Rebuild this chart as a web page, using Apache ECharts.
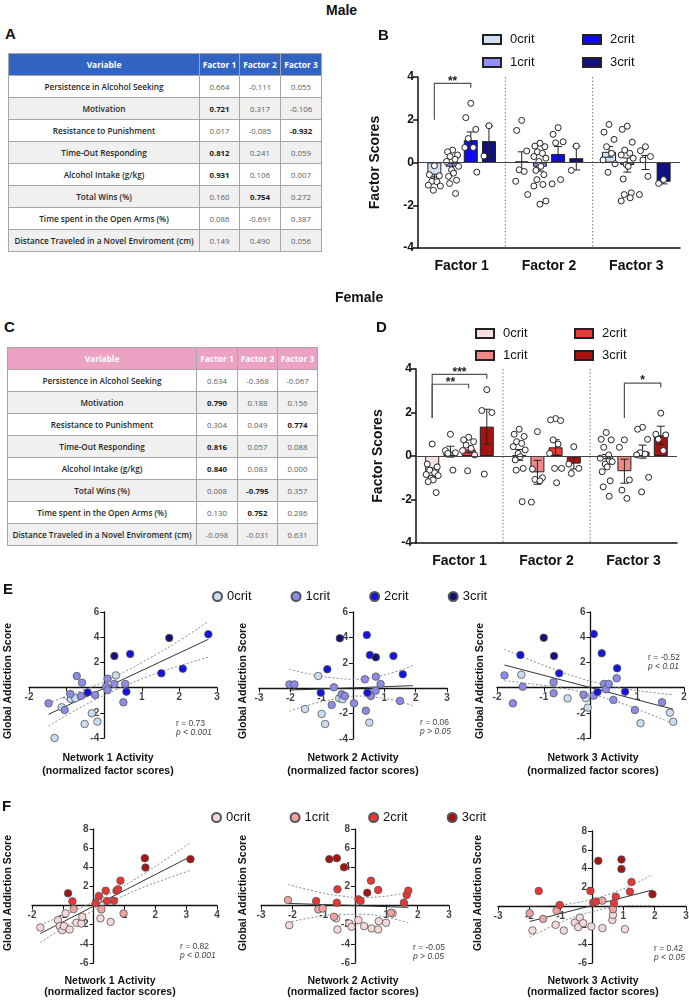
<!DOCTYPE html>
<html>
<head>
<meta charset="utf-8">
<title>Factor analysis – male / female</title>
<script src="https://cdn.jsdelivr.net/npm/echarts@6/dist/echarts.min.js"></script>
<style>
html, body { margin:0; padding:0; background:#fff; }
#page { position:relative; width:689px; height:1000px; overflow:hidden; background:#fff; font-family:"Liberation Sans", Arial, sans-serif; }
.chart { position:absolute; }
.head { position:absolute; font-weight:bold; font-size:14px; color:#111; z-index:3; }
.letter { position:absolute; font-weight:bold; font-size:15px; color:#111; }
table.load { position:absolute; border-collapse:collapse; table-layout:fixed; font-family:"Open Sans","Noto Sans",sans-serif; font-size:7.8px; }
table.load th, table.load td { border:1px solid #a6a6a6; padding:0; height:21px; text-align:center; vertical-align:middle; overflow:hidden; white-space:nowrap; }
table.load th { color:#fff; font-weight:700; font-size:8.4px; }
table.load td { color:#5a5a5a; background:#fff; }
table.load td.var { color:#262626; font-weight:600; font-size:8.2px; }
table.load td.b { color:#1a1a1a; font-weight:700; }
table.load tr.alt td { background:#f0f0f0; }
</style>
</head>
<body>
<div id="page">
  <div class="head" style="left:326px;top:2px;">Male</div>
  <div class="letter" style="left:5px;top:25px;">A</div>
  <table class="load" id="tabA" style="left:8px;top:53px;width:313px;"></table>
  <div class="chart" id="chB" style="left:340px;top:20px;width:349px;height:270px;"></div>

  <div class="head" style="left:335px;top:289px;">Female</div>
  <div class="letter" style="left:4px;top:318px;">C</div>
  <table class="load" id="tabC" style="left:7px;top:347px;width:310px;"></table>
  <div class="chart" id="chD" style="left:340px;top:290px;width:349px;height:290px;"></div>

  <div class="chart" id="chE" style="left:0px;top:580px;width:689px;height:205px;"></div>
  <div class="chart" id="chF" style="left:0px;top:790px;width:689px;height:210px;"></div>
</div>
<script>
// ---------- tables A / C ----------
const variables = ['Persistence in Alcohol Seeking', 'Motivation', 'Resistance to Punishment', 'Time-Out Responding',
  'Alcohol Intake (g/kg)', 'Total Wins (%)', 'Time spent in the Open Arms (%)', 'Distance Traveled in a Novel Enviroment (cm)'];
const maleF1 = [0.664, 0.721, 0.017, 0.812, 0.931, 0.160, 0.086, 0.149];
const maleF2 = [-0.111, 0.317, -0.085, 0.241, 0.106, 0.754, -0.691, 0.490];
const maleF3 = [0.055, -0.106, -0.932, 0.059, 0.007, 0.272, 0.387, 0.056];
const maleBold = [[1, 0], [2, 2], [3, 0], [4, 0], [5, 1]];
const femaleF1 = [0.634, 0.790, 0.304, 0.816, 0.840, 0.008, 0.130, -0.098];
const femaleF2 = [-0.368, 0.188, 0.049, 0.057, 0.083, -0.795, 0.752, -0.031];
const femaleF3 = [-0.067, 0.156, 0.774, 0.088, 0.000, 0.357, 0.286, 0.631];
const femaleBold = [[1, 0], [2, 2], [3, 0], [4, 0], [5, 1], [6, 1]];

// ---------- bar panels B / D (factor scores) ----------
const factors = ['Factor 1', 'Factor 2', 'Factor 3'];
const groups = ['0crit', '1crit', '2crit', '3crit'];

const bMeans = [[-0.7, 0.05, 0.5], [-0.2, -0.2, -0.12], [1.05, 0.4, 0.0], [1.0, 0.2, -0.9]];
const bSems = [[0.15, 0.45, 0.25], [0.18, 0.2, 0.33], [0.38, 0.35, 0.33], [0.72, 0.55, 0.1]];
const bPts0 = [[-0.15, -0.57, -0.62, -0.88, -0.9, -1.06, -1.1, -1.3], [1.97, 1.5, 0.54, -0.34, -0.42, -0.88, -1.5], [1.78, 1.42, 1.08, 0.74, 0.43, 0.12, -0.06, -0.46]];
const bPts1 = [[0.58, 0.5, 0.35, 0.28, 0.15, 0.05, -0.18, -0.34, -0.5, -0.65, -0.83, -0.98, -1.45],
  [0.9, 0.77, 0.74, 0.5, 0.43, 0.28, 0.2, 0.05, -0.18, -0.37, -0.57, -0.8, -1.03, -1.1, -1.8, -1.95],
  [1.7, 1.55, 0.95, 0.58, 0.43, 0.35, 0.2, -0.1, -0.18, -0.77, -1.42, -1.5, -1.65, -1.8]];
const bPts2 = [[2.77, 2.1, 1.55, 1.12, 0.7, 0.7, -0.45], [1.63, 1.32, 0.97, 0.92, -0.8, -1.0], [0.74, 0.55, 0.28, 0.12, -0.65, -1.5]];
const bPts3 = [[1.72, 0.3], [0.77, -0.37], [-0.8, -0.98]];
const bBrackets = [{ cat: 0, from: 0, to: 2, y0: 2.0, y1: 3.7, y2: 3.5, label: '**' }];

const dMeans = [[-0.75, 0.05, -0.15], [0.2, -0.75, -0.7], [0.3, 0.4, 0.2], [1.35, -0.35, 0.95]];
const dSems = [[0.2, 0.25, 0.22], [0.25, 0.55, 0.55], [0.15, 0.35, 0.3], [0.8, 0.25, 0.42]];
const dPts0 = [[0.55, -0.37, -0.5, -0.65, -0.77, -0.85, -0.9, -1.03, -1.1, -1.18, -1.68],
  [1.23, 1.0, 0.9, 0.66, 0.58, 0.43, 0.28, 0.12, -0.03, -0.18, -0.57, -0.65, -2.1],
  [1.08, 0.77, 0.74, 0.4, 0.05, -0.1, -0.26, -0.37, -0.5, -0.72, -1.14, -1.42, -1.85]];
const dPts1 = [[1.0, 0.25, 0.15, 0.12, -0.65], [1.12, -0.6, -1.0, -1.08, -1.14, -2.12], [0.74, 0.4, -1.1, -1.57, -1.95]];
const dPts2 = [[0.86, 0.74, 0.66, 0.5, 0.35, 0.25, 0.05, -0.68], [1.72, 1.66, 1.63, 0.74, 0.55, 0.12, -0.57, -0.57, -1.23], [1.32, 1.23, 0.77, 0.15, 0.09, 0.05, -0.98, -1.65]];
const dPts3 = [[3.05, 2.09, 2.0, -0.83], [0.43, -0.37, -0.57, -0.8], [1.97, 1.0, 0.97, 0.77, 0.25]];
const dBrackets = [
  { cat: 0, from: 0, to: 3, y0: 1.75, y1: 3.75, y2: 3.55, label: '***' },
  { cat: 0, from: 0, to: 2, y0: 1.75, y1: 3.3, y2: 3.1, label: '**' },
  { cat: 2, from: 1, to: 3, y0: 1.75, y1: 3.35, y2: 3.15, label: '*' }
];

// ---------- scatter panels E (male) ----------
const eYTicks = [-4, -2, 2, 4, 6];
const e1XTicks = [-2, -1, 1, 2, 3];
const e2XTicks = [-3, -2, -1, 1, 2, 3];
const e3XTicks = [-2, -1, 1, 2];
const e1c0 = [[-1.32, -4.0], [-1.13, -1.56], [-0.89, -0.9], [-0.77, -0.85], [-0.52, -2.89], [-0.33, -2.04], [-0.18, -2.7], [0.31, 0.97]];
const e1c1 = [[-1.48, -1.25], [-1.05, -1.78], [-0.9, -0.51], [-0.73, 0.92], [-0.62, -0.67], [-0.59, 0.39], [-0.24, -0.59], [0.05, 0.07], [0.09, 0.71], [0.09, -0.19], [0.27, 0.29], [0.51, -1.17], [0.56, 0.29]];
const e1c2 = [[-0.44, -0.38], [0.59, -0.32], [0.69, 2.67], [1.52, 1.13], [2.09, 1.5], [2.77, 4.23]];
const e1c3 = [[0.27, 2.51], [1.73, 3.94]];
const e1Fit = [[-1.48, -2.12], [2.77, 3.83]];
const e1Hi = [[-1.48, -1.2], [-0.5, -0.13], [0.3, 0.91], [1.2, 2.32], [2.0, 3.73], [2.77, 5.25]];
const e1Lo = [[-1.48, -3.04], [-0.5, -1.37], [0.3, -0.19], [1.2, 0.92], [2.0, 1.73], [2.77, 2.41]];

const e2c0 = [[-1.53, -1.64], [-1.11, 0.96], [-1.0, -2.03], [-0.89, -2.82], [-0.44, -0.8], [-0.33, -0.87], [0.52, -2.71], [1.91, -4.02]];
const e2c1 = [[-2.03, 0.3], [-1.87, 0.3], [-0.68, -1.32], [-0.61, 0.07], [-0.36, -0.48], [-0.26, -0.61], [0.03, -1.19], [0.38, 0.7], [0.41, -1.77], [0.57, -0.61], [0.73, 0.91], [0.72, -0.2], [0.88, 0.33], [1.5, -1.0]];
const e2c2 = [[-1.03, -0.35], [-0.82, 1.49], [0.44, 4.19], [0.46, -0.35], [0.54, 2.61], [1.29, 2.54], [1.59, 1.09]];
const e2c3 = [[-0.42, 3.93], [0.73, 2.43]];
const e2Fit = [[-2.03, -0.15], [1.91, 0.2]];
const e2Hi = [[-2.03, 1.5], [-1.2, 1.02], [-0.5, 0.78], [0.1, 0.7], [0.7, 0.89], [1.3, 1.25], [1.91, 1.78]];
const e2Lo = [[-2.03, -1.8], [-1.2, -1.18], [-0.5, -0.82], [0.1, -0.62], [0.7, -0.71], [1.3, -0.95], [1.91, -1.38]];

const e3c0 = [[-1.48, 1.02], [-0.49, -0.85], [-0.1, -0.85], [-0.06, -1.59], [1.07, -2.83], [1.41, -4.02], [1.7, -1.99], [1.77, -2.71]];
const e3c1 = [[-1.84, 0.97], [-1.66, -1.25], [-1.45, 0.07], [-0.79, 0.42], [-0.79, -0.45], [-0.15, -0.56], [0.07, -0.64], [0.29, 0.29], [0.33, -0.13], [0.39, 0.29], [0.49, -0.98], [0.56, 0.74], [0.95, -1.78], [1.53, -1.17]];
const e3c2 = [[-1.5, 2.58], [-0.67, 1.13], [0.07, 4.25], [0.15, -0.35], [0.24, 2.72], [0.57, 1.53], [0.74, -0.32]];
const e3c3 = [[-1.0, 3.96], [-0.78, 2.51]];
const e3Fit = [[-1.84, 1.79], [1.77, -1.72]];
const e3Hi = [[-1.84, 3.04], [-1.0, 1.77], [-0.3, 0.84], [0.2, 0.33], [0.8, -0.13], [1.77, -0.57]];
const e3Lo = [[-1.84, 0.54], [-1.0, 0.17], [-0.3, -0.26], [0.2, -0.71], [0.8, -1.43], [1.77, -2.87]];

// ---------- scatter panels F (female) ----------
const fYTicks = [-6, -4, -2, 2, 4, 6, 8];
const f1XTicks = [-2, -1, 1, 2, 3, 4];
const f2XTicks = [-3, -2, -1, 1, 2, 3];
const f3XTicks = [-3, -2, -1, 1, 2, 3];
const f1c0 = [[-1.73, -2.29], [-1.16, -1.52], [-1.1, -2.15], [-1.02, -2.57], [-0.91, -0.82], [-0.96, -2.15], [-0.78, -2.5], [-0.56, -1.8], [-0.4, -1.87], [-0.37, -1.17], [0.22, -1.34], [0.55, -1.7]];
const f1c1 = [[-0.65, -0.37], [0.15, 0.58], [0.25, -0.4], [0.97, -0.82]];
const f1c2 = [[-0.69, 0.44], [0.06, 0.23], [0.17, 1.0], [0.39, 1.56], [0.43, 0.47], [0.66, 0.5], [0.74, 1.56], [0.79, 1.7], [0.87, 2.6]];
const f1c3 = [[-0.83, 1.28], [1.66, 4.95], [1.68, 3.97], [3.14, 4.85]];
const f1Fit = [[-1.73, -2.92], [3.14, 5.12]];
const f1Hi = [[-1.73, -2.0], [-0.8, -0.78], [0, 0.39], [0.6, 1.4], [1.5, 3.06], [2.3, 4.74], [3.14, 6.57]];
const f1Lo = [[-1.73, -3.84], [-0.8, -1.98], [0, -0.51], [0.6, 0.46], [1.5, 1.76], [2.3, 2.74], [3.14, 3.67]];

const f2c0 = [[-2.1, -2.05], [-0.6, -1.34], [-0.56, -2.5], [-0.18, -1.87], [-0.11, -2.22], [0.11, -1.52], [0.29, -2.15], [0.53, -2.39], [0.74, -2.5], [0.76, -1.63], [0.99, -1.8], [1.2, -0.82]];
const f2c1 = [[-2.14, 0.58], [-1.17, -0.4], [-1.03, -0.3], [-0.67, -1.17], [1.15, -0.75]];
const f2c2 = [[-1.24, 0.47], [-0.56, 1.7], [-0.58, 0.3], [0.11, 0.65], [0.18, 0.47], [0.51, 2.6], [0.74, 1.63], [1.56, 0.3], [1.65, 1.1], [1.7, 1.56]];
const f2c3 = [[-0.82, 4.85], [-0.58, 4.95], [-0.35, 4.0], [0.39, 1.34]];
const f2Fit = [[-2.14, 0.23], [1.7, -0.19]];
const f2Hi = [[-2.14, 2.21], [-1.2, 1.43], [-0.4, 0.99], [0.2, 0.85], [0.9, 0.95], [1.7, 1.41]];
const f2Lo = [[-2.14, -1.75], [-1.2, -1.17], [-0.4, -0.91], [0.2, -0.91], [0.9, -1.15], [1.7, -1.79]];

const f3c0 = [[-1.9, -2.55], [-1.16, -1.95], [-0.9, -2.55], [-0.55, -1.71], [-0.44, -2.2], [-0.39, -1.18], [-0.28, -1.78], [-0.02, -2.13], [0.33, -2.3], [0.65, -1.43], [0.67, -0.9], [1.05, -2.41]];
const f3c1 = [[-1.99, -0.72], [-1.56, -1.32], [-1.13, -0.44], [0.33, 0.61], [0.67, -0.3]];
const f3c2 = [[-1.7, 1.64], [-1.03, 0.16], [-0.05, 1.64], [0.04, 0.4], [0.12, 0.51], [0.7, 0.34], [0.76, 1.03], [1.21, 1.56], [1.26, 2.59]];
const f3c3 = [[0.2, 4.84], [0.94, 4.98], [0.94, 3.96], [1.93, 1.29]];
const f3Fit = [[-1.99, -1.6], [1.93, 1.74]];
const f3Hi = [[-1.99, 0.05], [-1.2, 0.12], [-0.5, 0.39], [0, 0.75], [0.6, 1.36], [1.3, 2.3], [1.93, 3.39]];
const f3Lo = [[-1.99, -3.25], [-1.2, -1.98], [-0.5, -1.05], [0, -0.55], [0.6, -0.14], [1.3, 0.1], [1.93, 0.09]];

// ---------- styling ----------
const FONT = '"Liberation Sans", Arial, sans-serif';
const B_COLORS = ['#cfe2f3', '#9090f2', '#0c0cee', '#10107e'];
const D_COLORS = ['#f8e0e0', '#f08888', '#f03a3a', '#aa1212'];
const E_COLORS = ['#c8ddf2', '#8c8ce8', '#1414e0', '#121275'];
const F_COLORS = ['#f6d8d8', '#f0a3a3', '#e83535', '#a31414'];
const BAR_W = 14, BAR_STEP = 18.2;
const JIT = [0, -5, 5, -2.5, 2.5, -6, 6, -1, 1, -4, 4, -3, 3, -6, 6, 0];

function buildTable(id, f1, f2, f3, bold, headColor, widths) {
  const t = document.getElementById(id);
  let html = '<colgroup>' + widths.map(w => '<col style="width:' + w + 'px">').join('') + '</colgroup>';
  html += '<tr>' + ['Variable', 'Factor 1', 'Factor 2', 'Factor 3'].map(h => '<th style="background:' + headColor + '">' + h + '</th>').join('') + '</tr>';
  variables.forEach((v, r) => {
    const vals = [f1[r], f2[r], f3[r]];
    html += '<tr' + (r % 2 ? ' class="alt"' : '') + '><td class="var">' + v + '</td>';
    vals.forEach((x, c) => {
      const isB = bold.some(b => b[0] === r && b[1] === c);
      html += '<td' + (isB ? ' class="b"' : '') + '>' + x.toFixed(3) + '</td>';
    });
    html += '</tr>';
  });
  t.innerHTML = html;
}
buildTable('tabA', maleF1, maleF2, maleF3, maleBold, '#3063c2', [191, 40, 41, 41]);
buildTable('tabC', femaleF1, femaleF2, femaleF3, femaleBold, '#eba2c3', [189, 41, 40, 40]);

function barPanel(domId, p) {
  const chart = echarts.init(document.getElementById(domId));
  const series = [];
  groups.forEach((g, gi) => {
    series.push({
      name: g, type: 'bar', data: p.means[gi], barWidth: BAR_W, barGap: '30%', z: 2, silent: true,
      itemStyle: { color: p.colors[gi], borderColor: '#222', borderWidth: 1 },
      markLine: gi === 0 ? { silent: true, symbol: 'none', label: { show: false },
        lineStyle: { color: '#444', width: 1.2, type: 'solid' }, data: [{ yAxis: 0 }] } : undefined
    });
  });
  // dotted separators between factors
  series.push({
    type: 'custom', silent: true, z: 1, data: [[1, 0], [2, 0]],
    renderItem: (params, api) => {
      const i = api.value(0);
      const x = (api.coord([i - 1, 0])[0] + api.coord([i, 0])[0]) / 2;
      const cs = params.coordSys;
      return { type: 'line', shape: { x1: x, y1: cs.y, x2: x, y2: cs.y + cs.height },
        style: { stroke: '#777', lineWidth: 1, lineDash: [1.5, 2] } };
    }
  });
  // SEM error bars
  const err = [];
  groups.forEach((g, gi) => p.means[gi].forEach((m, ci) => err.push([ci, m, p.sems[gi][ci], gi])));
  series.push({
    type: 'custom', silent: true, z: 3, data: err,
    renderItem: (params, api) => {
      const ci = api.value(0), m = api.value(1), s = api.value(2), g = api.value(3);
      const x = api.coord([ci, m])[0] + (g - 1.5) * BAR_STEP;
      const yt = api.coord([ci, m + s])[1], yb = api.coord([ci, m - s])[1];
      const st = { stroke: '#222', lineWidth: 1 };
      return { type: 'group', children: [
        { type: 'line', shape: { x1: x, y1: yt, x2: x, y2: yb }, style: st },
        { type: 'line', shape: { x1: x - 4, y1: yt, x2: x + 4, y2: yt }, style: st },
        { type: 'line', shape: { x1: x - 4, y1: yb, x2: x + 4, y2: yb }, style: st }
      ] };
    }
  });
  // individual animals
  const dots = [];
  groups.forEach((g, gi) => p.pts[gi].forEach((arr, ci) => arr.forEach((v, k) => dots.push([ci, v, gi, k]))));
  series.push({
    type: 'custom', silent: true, z: 4, data: dots,
    renderItem: (params, api) => {
      const ci = api.value(0), v = api.value(1), g = api.value(2), k = api.value(3);
      const c = api.coord([ci, v]);
      return { type: 'circle', shape: { cx: c[0] + (g - 1.5) * BAR_STEP + JIT[k % JIT.length], cy: c[1], r: 3 },
        style: { fill: '#fff', stroke: '#222', lineWidth: 1 } };
    }
  });
  // significance brackets
  series.push({
    type: 'custom', silent: true, z: 4, data: p.brackets.map(b => [b.cat, b.y1]),
    renderItem: (params, api) => {
      const b = p.brackets[params.dataIndex];
      const cx = api.coord([b.cat, 0])[0];
      const xa = cx + (b.from - 1.5) * BAR_STEP, xb = cx + (b.to - 1.5) * BAR_STEP;
      const y0 = api.coord([b.cat, b.y0])[1], y1 = api.coord([b.cat, b.y1])[1], y2 = api.coord([b.cat, b.y2])[1];
      return { type: 'group', children: [
        { type: 'polyline', shape: { points: [[xa, y0], [xa, y1], [xb, y1], [xb, y2]] }, style: { stroke: '#555', lineWidth: 1.2, fill: null } },
        { type: 'text', x: (xa + xb) / 2, y: y1 - 2, style: { text: b.label, align: 'center', verticalAlign: 'middle', font: 'bold 12px ' + FONT, fill: '#222' } }
      ] };
    }
  });
  const leg = (names, left) => ({
    data: names, orient: 'vertical', left: left, top: p.legTop, icon: 'rect', itemWidth: 18, itemHeight: 9,
    itemGap: p.legGap, selectedMode: false, textStyle: { fontSize: 13, color: '#111', fontFamily: FONT, padding: [0, 0, 0, 4] }
  });
  chart.setOption({
    animation: false,
    textStyle: { fontFamily: FONT },
    grid: Object.assign({ outerBoundsMode: 'none', containLabel: false }, p.grid),
    legend: [leg(['0crit', '1crit'], p.legLeft[0]), leg(['2crit', '3crit'], p.legLeft[1])],
    graphic: [{ type: 'text', left: p.letter[1], top: p.letter[2], style: { text: p.letter[0], font: 'bold 15px ' + FONT, fill: '#111' } }],
    xAxis: {
      type: 'category', data: factors,
      axisLine: { onZero: false, lineStyle: { color: '#111', width: 1.5 } }, axisTick: { show: false },
      axisLabel: { fontSize: 14, fontWeight: 'bold', color: '#111', margin: 11 }
    },
    yAxis: {
      type: 'value', min: -4, max: 4, interval: 2,
      name: 'Factor Scores', nameLocation: 'middle', nameGap: p.nameGap,
      nameTextStyle: { fontSize: 14, fontWeight: 'bold', color: '#111' },
      axisLine: { show: true, lineStyle: { color: '#111', width: 1.5 } },
      axisTick: { show: true, length: 5, lineStyle: { color: '#111', width: 1.5 } },
      axisLabel: { fontSize: 12, fontWeight: 'bold', color: '#111', margin: 4 },
      splitLine: { show: false }
    },
    series: series
  });
}

barPanel('chB', {
  means: bMeans, sems: bSems, pts: [bPts0, bPts1, bPts2, bPts3], brackets: bBrackets, colors: B_COLORS,
  grid: { left: 78, top: 57, width: 262, height: 171 }, nameGap: 36,
  legTop: 8, legGap: 10, legLeft: [137, 237], letter: ['B', 38, 8]
});
barPanel('chD', {
  means: dMeans, sems: dSems, pts: [dPts0, dPts1, dPts2, dPts3], brackets: dBrackets, colors: D_COLORS,
  grid: { left: 76, top: 79, width: 261, height: 174 }, nameGap: 31,
  legTop: 32, legGap: 9, legLeft: [130, 229], letter: ['D', 36, 30]
});

function scatterPanel(domId, p) {
  const chart = echarts.init(document.getElementById(domId));
  const grids = [], xAxes = [], yAxes = [], series = [], graphic = [];
  const tickLabel = { show: true, fontSize: 10, fontWeight: 'bold', color: '#111', fontFamily: FONT };
  p.panels.forEach((q, i) => {
    const gr = q.grid;
    grids.push(Object.assign({ outerBoundsMode: 'none', containLabel: false }, gr));
    // axes cross at the origin: shift each axis line from the grid edge to the zero of the other one
    const xOff = -gr.height * (0 - q.y[0]) / (q.y[1] - q.y[0]);
    const yOff = -gr.width * (0 - q.x[0]) / (q.x[1] - q.x[0]);
    xAxes.push({ type: 'value', gridIndex: i, min: q.x[0], max: q.x[1], interval: 1, position: 'bottom', offset: xOff,
      axisLine: { onZero: false, lineStyle: { color: '#111', width: 1.3 } },
      axisTick: { show: true, length: 4, lineStyle: { color: '#111' } }, axisLabel: { show: false }, splitLine: { show: false } });
    yAxes.push({ type: 'value', gridIndex: i, min: q.y[0], max: q.y[1], interval: 2, position: 'left', offset: yOff,
      axisLine: { onZero: false, lineStyle: { color: '#111', width: 1.3 } },
      axisTick: { show: true, length: 4, lineStyle: { color: '#111' } }, axisLabel: { show: false }, splitLine: { show: false } });
    // tick labels sitting on the crossing axes
    series.push({ type: 'scatter', xAxisIndex: i, yAxisIndex: i, silent: true, z: 1, symbolSize: 0,
      data: q.xt.map(v => [v, 0]), label: Object.assign({ position: 'bottom', distance: 5, formatter: d => d.value[0] }, tickLabel) });
    series.push({ type: 'scatter', xAxisIndex: i, yAxisIndex: i, silent: true, z: 1, symbolSize: 0,
      data: q.yt.map(v => [0, v]), label: Object.assign({ position: 'left', distance: 5, formatter: d => d.value[1] }, tickLabel) });
    [q.hi, q.lo].forEach(band => series.push({ type: 'line', xAxisIndex: i, yAxisIndex: i, data: band, smooth: true,
      symbol: 'none', silent: true, z: 3, lineStyle: { color: '#8a8a8a', width: 1, type: [2, 2] } }));
    series.push({ type: 'line', xAxisIndex: i, yAxisIndex: i, data: q.fit, symbol: 'none', silent: true, z: 3,
      lineStyle: { color: '#333', width: 1 } });
    q.pts.forEach((d, g) => series.push({ name: groups[g], type: 'scatter', xAxisIndex: i, yAxisIndex: i, data: d,
      symbolSize: 7.5, z: 5, silent: true, itemStyle: { color: p.colors[g], borderColor: '#555', borderWidth: 0.8, opacity: 1 } }));
    graphic.push({ type: 'text', x: q.yTitle[0], y: q.yTitle[1], rotation: Math.PI / 2,
      style: { text: 'Global Addiction Score', align: 'center', verticalAlign: 'middle', font: 'bold 10.5px ' + FONT, fill: '#111' } });
    graphic.push({ type: 'text', x: q.xTitle[0], y: q.xTitle[1],
      style: { text: 'Network ' + (i + 1) + ' Activity', align: 'center', verticalAlign: 'middle', font: 'bold 10.5px ' + FONT, fill: '#111' } });
    graphic.push({ type: 'text', x: q.xTitle[0], y: q.xTitle[1] + p.xTitleGap,
      style: { text: '(normalized factor scores)', align: 'center', verticalAlign: 'middle', font: 'bold 10.5px ' + FONT, fill: '#111' } });
    graphic.push({ type: 'text', x: q.stat[0], y: q.stat[1],
      style: { text: q.r, align: 'left', verticalAlign: 'middle', font: '8.5px ' + FONT, fill: '#444' } });
    graphic.push({ type: 'text', x: q.stat[0], y: q.stat[1] + 9,
      style: { text: q.p, align: 'left', verticalAlign: 'middle', font: 'italic 8.5px ' + FONT, fill: '#444' } });
  });
  graphic.push({ type: 'text', left: p.letter[1], top: p.letter[2], style: { text: p.letter[0], font: 'bold 15px ' + FONT, fill: '#111' } });
  chart.setOption({
    animation: false,
    textStyle: { fontFamily: FONT },
    grid: grids, xAxis: xAxes, yAxis: yAxes,
    legend: { data: groups, left: p.legLeft, top: p.legTop, icon: 'circle', itemWidth: 9, itemHeight: 9, itemGap: 39,
      selectedMode: false, textStyle: { fontSize: 13, color: '#111', fontFamily: FONT } },
    graphic: graphic,
    series: series
  });
}

scatterPanel('chE', {
  colors: E_COLORS, legLeft: 207, legTop: 5, letter: ['E', 3, 2], xTitleGap: 13,
  panels: [
    { grid: { left: 29, top: 32, width: 188, height: 126 }, x: [-2, 3], y: [-4, 6], xt: e1XTicks, yt: eYTicks, pts: [e1c0, e1c1, e1c2, e1c3],
      fit: e1Fit, hi: e1Hi, lo: e1Lo, yTitle: [8, 101], xTitle: [108, 178], stat: [176, 144], r: 'r = 0.73', p: 'p < 0.001' },
    { grid: { left: 259, top: 32, width: 188, height: 127 }, x: [-3, 3], y: [-4, 6], xt: e2XTicks, yt: eYTicks, pts: [e2c0, e2c1, e2c2, e2c3],
      fit: e2Fit, hi: e2Hi, lo: e2Lo, yTitle: [243, 101], xTitle: [353, 178], stat: [420, 143], r: 'r = 0.06', p: 'p > 0.05' },
    { grid: { left: 497, top: 32, width: 187, height: 126 }, x: [-2, 2], y: [-4, 6], xt: e3XTicks, yt: eYTicks, pts: [e3c0, e3c1, e3c2, e3c3],
      fit: e3Fit, hi: e3Hi, lo: e3Lo, yTitle: [480, 101], xTitle: [593, 178], stat: [648, 78], r: 'r = -0.52', p: 'p < 0.01' }
  ]
});
scatterPanel('chF', {
  colors: F_COLORS, legLeft: 206, legTop: 16, letter: ['F', 2, 9], xTitleGap: 11,
  panels: [
    { grid: { left: 32, top: 39, width: 185, height: 134 }, x: [-2, 4], y: [-6, 8], xt: f1XTicks, yt: fYTicks, pts: [f1c0, f1c1, f1c2, f1c3],
      fit: f1Fit, hi: f1Hi, lo: f1Lo, yTitle: [8, 103], xTitle: [110, 191], stat: [180, 157], r: 'r = 0.82', p: 'p < 0.001' },
    { grid: { left: 261, top: 39, width: 188, height: 134 }, x: [-3, 3], y: [-6, 8], xt: f2XTicks, yt: fYTicks, pts: [f2c0, f2c1, f2c2, f2c3],
      fit: f2Fit, hi: f2Hi, lo: f2Lo, yTitle: [243, 103], xTitle: [353, 191], stat: [413, 158], r: 'r = -0.05', p: 'p > 0.05' },
    { grid: { left: 498, top: 41, width: 188, height: 132 }, x: [-3, 3], y: [-6, 8], xt: f3XTicks, yt: fYTicks, pts: [f3c0, f3c1, f3c2, f3c3],
      fit: f3Fit, hi: f3Hi, lo: f3Lo, yTitle: [478, 103], xTitle: [593, 191], stat: [654, 159], r: 'r = 0.42', p: 'p < 0.05' }
  ]
});
</script>
</body>
</html>
